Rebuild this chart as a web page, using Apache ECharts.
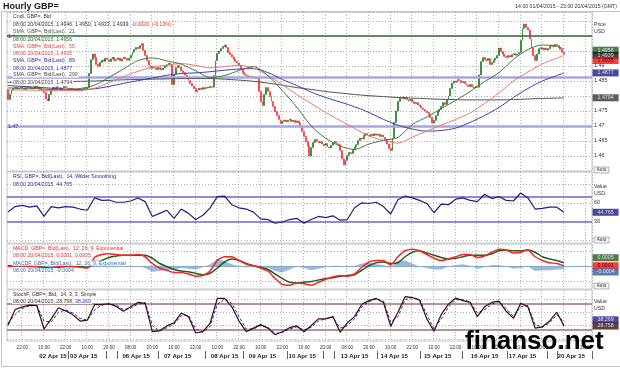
<!DOCTYPE html>
<html><head><meta charset="utf-8">
<script src="https://cdn.jsdelivr.net/npm/echarts@6/dist/echarts.min.js"></script>
<style>html,body{margin:0;padding:0;background:#fff;}#c{width:620px;height:369px;}</style>
</head><body><div id="c"></div>
<script>
// ---------- DATA ----------
const firstOpen = 1.4822;
const closes = [
1.4788,1.4806,1.4819,1.4825,1.4829,1.4823,1.4827,1.4831,1.4826,1.4822,1.4828,1.4832,
1.4829,1.4824,1.4827,1.4833,1.4830,1.4826,1.4822,1.4818,1.4812,1.4790,1.4784,1.4805,
1.4822,1.4829,1.4826,1.4831,1.4828,1.4823,1.4827,1.4832,1.4829,1.4825,1.4821,1.4826,
1.4824,1.4820,1.4817,1.4822,1.4818,1.4821,1.4826,1.4823,1.4828,1.4875,1.4921,1.4940,
1.4928,1.4905,1.4899,1.4912,1.4920,1.4916,1.4926,1.4921,1.4915,1.4924,1.4929,1.4918,
1.4922,1.4927,1.4917,1.4923,1.4930,1.4925,1.4919,1.4926,1.4935,1.4946,1.4955,1.4962,
1.4958,1.4968,1.4975,1.4952,1.4935,1.4918,1.4903,1.4892,1.4898,1.4893,1.4888,1.4895,
1.4891,1.4887,1.4893,1.4899,1.4904,1.4909,1.4903,1.4838,1.4872,1.4895,1.4901,1.4896,
1.4884,1.4878,1.4870,1.4862,1.4851,1.4842,1.4833,1.4825,1.4814,1.4820,1.4826,1.4822,
1.4828,1.4824,1.4830,1.4827,1.4832,1.4829,1.4868,1.4918,1.4942,1.4950,1.4958,1.4965,
1.4970,1.4962,1.4945,1.4938,1.4930,1.4922,1.4915,1.4910,1.4903,1.4889,1.4878,1.4872,
1.4868,1.4862,1.4866,1.4860,1.4864,1.4858,1.4862,1.4815,1.4782,1.4768,1.4805,1.4828,
1.4815,1.4798,1.4782,1.4765,1.4748,1.4735,1.4722,1.4708,1.4716,1.4720,1.4714,1.4719,
1.4722,1.4715,1.4719,1.4712,1.4717,1.4710,1.4700,1.4682,1.4665,1.4648,1.4633,1.4600,
1.4628,1.4645,1.4655,1.4650,1.4644,1.4648,1.4640,1.4635,1.4642,1.4630,1.4627,1.4636,
1.4644,1.4648,1.4641,1.4638,1.4618,1.4590,1.4570,1.4585,1.4602,1.4612,1.4608,1.4622,
1.4630,1.4638,1.4652,1.4660,1.4657,1.4668,1.4675,1.4670,1.4666,1.4672,1.4668,1.4674,
1.4669,1.4673,1.4665,1.4670,1.4662,1.4655,1.4640,1.4625,1.4618,1.4660,1.4712,1.4750,
1.4782,1.4793,1.4797,1.4790,1.4795,1.4788,1.4784,1.4790,1.4781,1.4775,1.4778,1.4770,
1.4766,1.4760,1.4755,1.4750,1.4745,1.4738,1.4728,1.4710,1.4718,1.4735,1.4748,1.4755,
1.4765,1.4778,1.4772,1.4788,1.4800,1.4825,1.4843,1.4850,1.4846,1.4855,1.4852,1.4845,
1.4848,1.4842,1.4836,1.4832,1.4838,1.4830,1.4827,1.4833,1.4829,1.4870,1.4915,1.4928,
1.4922,1.4918,1.4925,1.4905,1.4912,1.4920,1.4926,1.4935,1.4960,1.4948,1.4940,1.4932,
1.4928,1.4935,1.4930,1.4938,1.4942,1.4936,1.4940,1.4945,1.4985,1.5025,1.5040,1.5028,
1.5020,1.4990,1.4960,1.4935,1.4918,1.4940,1.4958,1.4962,1.4955,1.4960,1.4953,1.4958,
1.4966,1.4970,1.4964,1.4972,1.4968,1.4962,1.4955,1.4946,1.4939];

// moving averages, one reading every 8 bars (last one at the final bar)
const sma21 = [1.4827,1.4826,1.4825,1.4822,1.4822,1.4825,1.4836,1.4862,1.4890,1.4918,1.4927,1.4917,1.4906,1.4884,1.4862,1.4868,1.4885,1.4898,1.4868,1.4818,1.4763,1.4700,1.4659,1.4633,1.4622,1.4640,1.4652,1.4662,1.4705,1.4730,1.4758,1.4785,1.4815,1.4848,1.4878,1.4922,1.4955,1.4970,1.4966,1.4956];
const sma55 = [1.4820,1.4820,1.4819,1.4818,1.4818,1.4819,1.4826,1.4845,1.4865,1.4882,1.4896,1.4903,1.4908,1.4902,1.4894,1.4898,1.4902,1.4893,1.4869,1.4838,1.4805,1.4775,1.4745,1.4718,1.4692,1.4667,1.4652,1.4643,1.4663,1.4683,1.4703,1.4722,1.4743,1.4775,1.4810,1.4850,1.4880,1.4907,1.4926,1.4935];
const sma89 = [1.4835,1.4832,1.4829,1.4826,1.4823,1.4821,1.4824,1.4832,1.4842,1.4851,1.4860,1.4869,1.4875,1.4877,1.4881,1.4886,1.4890,1.4891,1.4878,1.4855,1.4835,1.4813,1.4795,1.4780,1.4764,1.4745,1.4722,1.4703,1.4690,1.4683,1.4685,1.4693,1.4712,1.4735,1.4762,1.4795,1.4825,1.4850,1.4868,1.4877];
const sma200 = [1.4845,1.4846,1.4846,1.4847,1.4848,1.4849,1.4850,1.4852,1.4854,1.4855,1.4856,1.4857,1.4858,1.4858,1.4858,1.4856,1.4853,1.4849,1.4843,1.4836,1.4828,1.4822,1.4815,1.4810,1.4805,1.4801,1.4798,1.4795,1.4793,1.4791,1.4789,1.4788,1.4787,1.4787,1.4787,1.4788,1.4790,1.4792,1.4793,1.4794];

// indicators, one reading every 4 bars
const rsi = [45,54,56,53,55,38,54,52,54,53,50,48,68,64,64.6,61,61,63,68,62,38,43,48,35,50,43,33,40,52,70,71,57,52,50,45,34,33,27,29,33,35,27,33,38,36,39,32,33,52,60,59,61,54,42,65,71,68,64,59,44,58,57,66,68,64,62,74,67,70,64,63,76,68,50,51,53,53,44.8];
const macd = [0,0.0001,0.0001,0,0,-0.0003,-0.0002,0,0.0001,0,-0.0001,-0.0002,0.0012,0.0016,0.0017,0.0016,0.0015,0.0015,0.0016,0.0013,0.0004,-0.0002,-0.0005,-0.0008,-0.0008,-0.0010,-0.0013,-0.0012,-0.0006,0.0008,0.0013,0.0013,0.0008,0.0003,0.0001,-0.0002,-0.0006,-0.0016,-0.0024,-0.0025,-0.0022,-0.0023,-0.0025,-0.0021,-0.0017,-0.0014,-0.0012,-0.0013,-0.0010,-0.0001,0.0006,0.0008,0.0008,0.0002,0.0013,0.0021,0.0023,0.0021,0.0016,0.0011,0.0008,0.0010,0.0013,0.0016,0.0016,0.0012,0.0014,0.0019,0.0023,0.0022,0.0018,0.0019,0.0022,0.0013,0.0008,0.0005,0.0004,0.0001];
const macdSignal = [0.0001,0.0001,0.0001,0.0001,0,-0.0001,-0.0002,-0.0001,0,0,0,-0.0001,0.0003,0.0008,0.0012,0.0014,0.0015,0.0015,0.0015,0.0015,0.0011,0.0004,0,-0.0004,-0.0006,-0.0007,-0.0009,-0.0011,-0.0009,-0.0002,0.0006,0.0010,0.0008,0.0004,0.0001,-0.0001,-0.0004,-0.0010,-0.0016,-0.0021,-0.0022,-0.0021,-0.0020,-0.0018,-0.0016,-0.0015,-0.0013,-0.0012,-0.0011,-0.0005,0.0001,0.0005,0.0006,0.0004,0.0005,0.0013,0.0019,0.0021,0.0018,0.0015,0.0012,0.0010,0.0011,0.0013,0.0015,0.0015,0.0015,0.0017,0.0021,0.0022,0.0021,0.0021,0.0022,0.0019,0.0013,0.0010,0.0008,0.0005];
const macdHist = [-0.0001,0,0,-0.0001,0,-0.0002,0,0.0001,0.0001,0,-0.0001,-0.0001,0.0009,0.0008,0.0005,0.0002,0,0,0.0001,-0.0002,-0.0007,-0.0006,-0.0005,-0.0004,-0.0002,-0.0003,-0.0004,-0.0001,0.0003,0.0010,0.0007,0.0003,0,-0.0001,0,-0.0001,-0.0002,-0.0006,-0.0008,-0.0004,0,-0.0002,-0.0005,-0.0003,-0.0001,0.0001,0.0001,-0.0001,0.0001,0.0004,0.0005,0.0003,0.0002,-0.0002,0.0008,0.0008,0.0004,0,-0.0002,-0.0004,-0.0004,0,0.0002,0.0003,0.0001,-0.0003,-0.0001,0.0002,0.0002,0,-0.0003,-0.0002,0,-0.0006,-0.0005,-0.0005,-0.0004,-0.0004];
const stochK = [30,66,72,76,75,22,45,70,63,54,40,42,77,77,79,73,62,72,82,80,16,18,29,36,58,50,13,16,35,91,91,72,40,16,24,32,24,9,16,25,29,16,30,45,45,50,15,36,50,78,86,91,82,28,60,95,93,87,45,17,55,78,92,86,82,50,72,82,85,62,46,80,72,24,27,40,60,28.8];
const stochD = [35,55,68,74,75,40,38,60,65,58,46,42,65,76,78,76,66,69,78,82,30,17,25,33,52,53,22,15,28,78,90,80,50,22,22,30,26,12,14,22,27,20,26,40,45,48,24,30,45,72,84,90,85,38,50,88,93,89,55,22,45,72,88,88,83,58,66,78,84,68,50,72,75,32,26,36,54,38.3];

// horizontal levels drawn on the price panel
const priceLevels = [1.5, 1.4863, 1.47];
// latest values shown in the right-hand boxes
const priceBoxes = [1.4956, 1.4939, 1.4935, 1.4877, 1.4794];
const rsiBox = [44.765];
const macdBoxes = [0.0005, 0.0001, -0.0004];
const stochBoxes = [38.269, 28.758];
const rsiLevels = [70, 30];
const stochLevels = [80, 20];
const rsiGridLines = [0, 60, 90];
const stochGridLines = [0, 30, 60, 90];
const macdGridLines = [0.002, -0.002];

// axis
const totalBars = 324;
const firstTickBar = 8, tickEvery = 12;
const timeTicks = ['22:00','10:00','22:00','10:00','20:00','08:00','20:00','10:00','22:00','10:00','22:00','10:00','22:00','10:00','20:00','08:00','20:00','10:00','22:00','10:00','22:00','10:00','22:00','10:00','20:00','08:00','20:00'];
const dayLabels = ['02 Apr 15','03 Apr 15','06 Apr 15','07 Apr 15','08 Apr 15','09 Apr 15','10 Apr 15','13 Apr 15','14 Apr 15','15 Apr 15','16 Apr 15','17 Apr 15','20 Apr 15'];
const dayCenters = [25,42,71,94,120,141,163,192,214,238,264,285,312];
const daySeps = [34,55,61,84,110,131,155,175,181,205,229,252,277,299,305];
const shownPriceTicks = [1.46,1.465,1.47,1.475,1.485,1.49];
const shownRsiTicks = [30,60];

// ---------- BUILD ----------
const FONT = '"Liberation Sans", Arial, sans-serif';
const cats = Array.from({length: totalBars}, (_, i) => i);
const lastCat = totalBars - 1;
const lastBar = closes.length - 1;
const candles = closes.map((c, i) => {
  const o = i === 0 ? firstOpen : closes[i - 1];
  return [o, c, Math.min(o, c), Math.max(o, c)];
});
const sampled = (arr, step) => arr.map((v, i) => [Math.min(i * step, lastBar), v]);
const tickFn = (i) => i >= firstTickBar && (i - firstTickBar) % tickEvery === 0;
const dotted = {color: '#b0b0b0', type: [1, 2], width: 1};
const dottedLines = (vals) => vals.map(v => ({yAxis: v, lineStyle: dotted}));

const grids = [
  {top: 12, height: 159},
  {top: 172, height: 71},
  {top: 244, height: 45},
  {top: 290, height: 51}
].map(g => Object.assign({left: 7, right: 28, show: true, borderColor: '#c4c4c4', borderWidth: 1, backgroundColor: '#fff', containLabel: false, outerBoundsMode: 'none'}, g));

const xAxes = [0, 1, 2, 3].map(g => ({
  type: 'category', gridIndex: g, data: cats, boundaryGap: true,
  axisLine: {show: false}, axisTick: {show: false},
  axisLabel: g === 3 ? {show: true, interval: tickFn, hideOverlap: false, formatter: (v, i) => timeTicks[(i - firstTickBar) / tickEvery] || '', fontSize: 4.6, color: '#333', margin: 4, fontFamily: FONT} : {show: false},
  splitLine: {show: true, interval: tickFn, lineStyle: dotted}
}));
xAxes.push({
  type: 'category', gridIndex: 3, data: cats, boundaryGap: true, position: 'bottom', offset: 10,
  axisLine: {show: false},
  axisTick: {show: true, interval: (i) => daySeps.includes(i), length: 8, lineStyle: {color: '#666', width: 1}},
  axisLabel: {show: true, interval: (i) => dayCenters.includes(i), hideOverlap: false, formatter: (v, i) => dayLabels[dayCenters.indexOf(i)] || '', fontSize: 6.1, fontWeight: 'bold', color: '#222', margin: 2.5, fontFamily: FONT},
  splitLine: {show: false}
});

const yAxes = [
  {gridIndex: 0, type: 'value', position: 'right', min: 1.455, max: 1.508, interval: 0.005,
   axisLine: {show: false}, axisTick: {show: false},
   axisLabel: {fontSize: 5.4, color: '#333', margin: 2, fontFamily: FONT, formatter: v => shownPriceTicks.includes(+(+v).toFixed(3)) ? String(+(+v).toFixed(3)) : ''},
   splitLine: {show: true, lineStyle: dotted}},
  {gridIndex: 1, type: 'value', position: 'right', min: -5, max: 110, interval: 5,
   axisLine: {show: false}, axisTick: {show: false},
   axisLabel: {fontSize: 5.4, color: '#333', margin: 2, fontFamily: FONT, formatter: v => shownRsiTicks.includes(v) ? String(v) : ''},
   splitLine: {show: false}},
  {gridIndex: 2, type: 'value', position: 'right', min: -0.003, max: 0.003, interval: 0.001,
   axisLine: {show: false}, axisTick: {show: false}, axisLabel: {show: false},
   splitLine: {show: false}},
  {gridIndex: 3, type: 'value', position: 'right', min: -5, max: 110, interval: 5,
   axisLine: {show: false}, axisTick: {show: false}, axisLabel: {show: false},
   splitLine: {show: false}}
];

function boxSeries(g, items) {
  return {
    type: 'scatter', xAxisIndex: g, yAxisIndex: g, clip: false, silent: true, z: 20,
    symbol: 'rect', symbolSize: [26, 7],
    data: items.map(it => ({
      value: [lastCat, it.v], symbolOffset: [14.5, it.dy],
      itemStyle: {color: it.bg},
      label: {show: true, position: 'inside', formatter: it.t, color: it.fg, fontSize: 5.3, fontFamily: FONT}
    }))
  };
}
function lineS(g, data, color, width, extra) {
  return Object.assign({type: 'line', xAxisIndex: g, yAxisIndex: g, data, showSymbol: false, symbol: 'none',
    lineStyle: {color, width}, silent: true, z: 5}, extra || {});
}
const ML = (data) => ({symbol: 'none', silent: true, animation: false, precision: 6, label: {show: false}, data});

const series = [
  {type: 'candlestick', xAxisIndex: 0, yAxisIndex: 0, data: candles, barWidth: 1.4, z: 4,
   itemStyle: {color: '#0a6a0a', color0: '#ff1010', borderColor: '#0a6a0a', borderColor0: '#ff1010', borderWidth: 0.5},
   markLine: ML([
     {yAxis: priceLevels[0], lineStyle: {color: '#2f6a2f', width: 1.5, type: 'solid'},
      label: {show: true, position: 'insideStartTop', distance: [1, -3], formatter: String(priceLevels[0]), color: '#333', fontSize: 5.3, fontFamily: FONT}},
     {yAxis: priceLevels[1], lineStyle: {color: '#a6a6e2', width: 2.5, type: 'solid'}, label: {show: false}},
     {yAxis: priceLevels[2], lineStyle: {color: '#a6a6e2', width: 2.5, type: 'solid'},
      label: {show: true, position: 'insideStartTop', distance: [1, -3], formatter: String(priceLevels[2]), color: '#333399', fontSize: 5.3, fontFamily: FONT}}
   ])},
  lineS(0, sampled(sma200, 8), '#555555', 1, {smooth: 0.3}),
  lineS(0, sampled(sma89, 8), '#4040aa', 1, {smooth: 0.3}),
  lineS(0, sampled(sma55, 8), '#f07474', 1, {smooth: 0.3}),
  lineS(0, sampled(sma21, 8), '#3f7a3f', 1, {smooth: 0.3}),
  boxSeries(0, [
    {v: priceBoxes[0], t: priceBoxes[0].toFixed(4), bg: '#1f5c1f', fg: '#fff', dy: 1},
    {v: priceBoxes[1], t: priceBoxes[1].toFixed(4), bg: '#111', fg: '#fff', dy: 1},
    {v: priceBoxes[2], t: priceBoxes[2].toFixed(4), bg: '#f01010', fg: '#200', dy: 5},
    {v: priceBoxes[3], t: priceBoxes[3].toFixed(4), bg: '#1c1c86', fg: '#fff', dy: 0},
    {v: priceBoxes[4], t: priceBoxes[4].toFixed(4), bg: '#333', fg: '#fff', dy: 0}
  ]),
  lineS(1, sampled(rsi, 4), '#1e1e86', 1.2, {
    markLine: ML(dottedLines(rsiGridLines).concat(rsiLevels.map(v => ({yAxis: v, lineStyle: {color: '#6868b8', width: 1.5, type: 'solid'}}))))}),
  boxSeries(1, [{v: rsiBox[0], t: rsiBox[0].toFixed(3), bg: '#1c1c86', fg: '#fff', dy: 0}]),
  lineS(2, sampled(macdHist, 4), '#5a8ac0', 0, {areaStyle: {color: '#5a8ac0', opacity: 0.6}, z: 3,
    markLine: ML(dottedLines(macdGridLines).concat([{yAxis: 0, lineStyle: {color: '#88a8d0', width: 1, type: 'solid'}}]))}),
  lineS(2, sampled(macdSignal, 4), '#1f5f1f', 1.5, {smooth: 0.2}),
  lineS(2, sampled(macd, 4), '#ff2020', 1.5, {smooth: 0.2}),
  boxSeries(2, [
    {v: macdBoxes[0], t: macdBoxes[0].toFixed(4), bg: '#1f5c1f', fg: '#fff', dy: -5},
    {v: macdBoxes[1], t: macdBoxes[1].toFixed(4), bg: '#f01010', fg: '#200', dy: 0},
    {v: macdBoxes[2], t: macdBoxes[2].toFixed(4), bg: '#2a5c9a', fg: '#fff', dy: 2.5}
  ]),
  lineS(3, sampled(stochD, 4), '#2424d0', 1, {lineStyle: {color: '#2424d0', width: 1, type: [3, 2]},
    markLine: ML(dottedLines(stochGridLines).concat(stochLevels.map(v => ({yAxis: v, lineStyle: {color: '#9c7070', width: 1.5, type: 'solid'}}))))}),
  lineS(3, sampled(stochK, 4), '#3a0c0c', 1.2),
  boxSeries(3, [
    {v: stochBoxes[0], t: stochBoxes[0].toFixed(3), bg: '#1c1c86', fg: '#fff', dy: -2},
    {v: stochBoxes[1], t: stochBoxes[1].toFixed(3), bg: '#3a1010', fg: '#fff', dy: 0}
  ])
];

// ---------- TEXT ----------
function T(x, y, text, fill, o) {
  o = o || {};
  const font = (o.weight || 'normal') + ' ' + (o.size || 5.2) + 'px ' + FONT;
  const style = {text, fill, font, textAlign: o.align || 'left', align: o.align || 'left',
    textVerticalAlign: 'middle', verticalAlign: 'middle'};
  if (o.bg) { style.backgroundColor = o.bg; style.padding = [0, 1, 0, 1]; }
  if (o.rich) style.rich = o.rich;
  return {type: 'text', x, y, z: 100, silent: true, style};
}
const W = '#ffffff';
const richLine = (a, b, ca, cb) => ({
  text: '{a|' + a + '}{b|' + b + '}',
  rich: {a: {fill: ca, font: '5.2px ' + FONT}, b: {fill: cb, font: '5.2px ' + FONT}}
});
const l2 = richLine('08:00 20/04/2015, 1.4946, 1.4950, 1.4933, 1.4939, ', '-0.0020, (-0.13%)', '#333', '#e03030');
const l3 = richLine('08:00 20/04/2015, 28.758, ', '38.269', '#4a1c1c', '#2c2cc0');
const l4 = richLine('08:00 20/04/2015, 0.0001, ', '0.0005', '#e83030', '#e83030');

const graphics = [
  {type: 'rect', shape: {x: 1.5, y: 11.5, width: 640, height: 355}, style: {fill: 'none', stroke: '#c4c4c4', lineWidth: 1}, z: 1, silent: true},
  T(3, 7, 'Hourly GBP=', '#1a1a1a', {size: 9, weight: 'bold'}),
  T(617, 7, '14:00 01/04/2015 - 23:00 20/04/2015 (GMT)', '#333', {align: 'right'}),
  T(12, 17, 'Cndl, GBP=, Bid', '#333', {bg: W}),
  T(12, 24.5, l2.text, '#333', {bg: W, rich: l2.rich}),
  T(12, 32, 'SMA, GBP=, Bid(Last),  21', '#2e6b2e', {bg: W}),
  T(12, 39.3, '08:00 20/04/2015, 1.4956', '#2e6b2e', {bg: W}),
  T(12, 46.7, 'SMA, GBP=, Bid(Last),  55', '#e84040', {bg: W}),
  T(12, 54, '08:00 20/04/2015, 1.4935', '#e84040', {bg: W}),
  T(12, 61, 'SMA, GBP=, Bid(Last),  89', '#30309a', {bg: W}),
  T(12, 68.3, '08:00 20/04/2015, 1.4877', '#30309a', {bg: W}),
  T(12, 75, 'SMA, GBP=, Bid(Last),  200', '#444', {bg: W}),
  T(12, 82.3, '08:00 20/04/2015, 1.4794', '#444', {bg: W}),
  T(12, 177, 'RSI, GBP=, Bid(Last),  14, Wilder Smoothing', '#24248a', {bg: W}),
  T(12, 184.3, '08:00 20/04/2015, 44.765', '#24248a', {bg: W}),
  T(12, 249, 'MACD, GBP=, Bid(Last),  12, 26, 9, Exponential', '#e83030', {bg: W}),
  T(12, 256, l4.text, '#e83030', {bg: W, rich: l4.rich}),
  T(12, 263.3, 'MACDF, GBP=, Bid(Last),  12, 26, 9, Exponential', '#3a6ea5', {bg: W}),
  T(12, 270.5, '08:00 20/04/2015, -0.0004', '#3a6ea5', {bg: W}),
  T(12, 294.3, 'StochF, GBP=, Bid,  14, 3, 3, Simple', '#4a1c1c', {bg: W}),
  T(12, 301.5, l3.text, '#4a1c1c', {bg: W, rich: l3.rich}),
  T(594, 25, 'Price', '#333'),
  T(594, 32, 'USD', '#333'),
  T(594, 187, 'Value', '#333'),
  T(594, 194, 'USD', '#333'),
  T(594, 302, 'Value', '#333'),
  T(594, 309, 'USD', '#333')
];
[170, 240, 286].forEach(y => {
  graphics.push({type: 'rect', shape: {x: 594, y: y - 3, width: 15, height: 6}, style: {fill: '#f4f4f4', stroke: '#888', lineWidth: 0.6}, z: 100, silent: true});
  graphics.push(T(601.5, y, 'Auto', '#333', {align: 'center', size: 4.6}));
});
graphics.push(T(465, 342, 'finanso.net', '#000', {size: 26, weight: 'bold'}));

const chart = echarts.init(document.getElementById('c'), null, {renderer: 'canvas'});
chart.setOption({
  animation: false,
  backgroundColor: '#fff',
  grid: grids,
  xAxis: xAxes,
  yAxis: yAxes,
  series,
  graphic: {elements: graphics}
});
</script>
</body></html>
